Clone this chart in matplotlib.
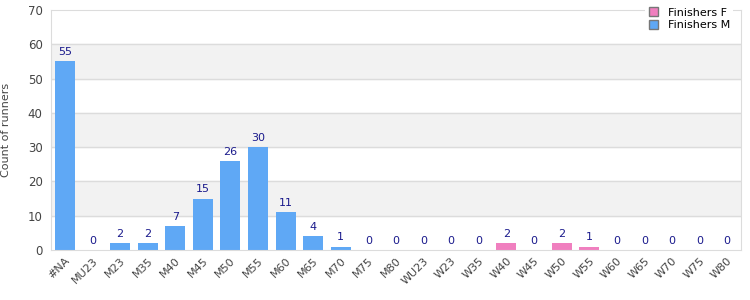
import matplotlib.pyplot as plt
import numpy as np

categories = ['#NA', 'MU23', 'M23', 'M35', 'M40', 'M45', 'M50', 'M55', 'M60', 'M65',
              'M70', 'M75', 'M80', 'WU23', 'W23', 'W35', 'W40', 'W45', 'W50', 'W55',
              'W60', 'W65', 'W70', 'W75', 'W80']
finishers_m = [55, 0, 2, 2, 7, 15, 26, 30, 11, 4, 1, 0, 0, 0, 0, 0, 0, 0, 0, 0, 0, 0, 0, 0, 0]
finishers_f = [0, 0, 0, 0, 0, 0, 0, 0, 0, 0, 0, 0, 0, 0, 0, 0, 2, 0, 2, 1, 0, 0, 0, 0, 0]

blue = '#5fa8f5'
pink = '#f07fbf'
grid_c = '#dcdcdc'

fig = plt.figure(figsize=(7.5, 3), dpi=100)
ax = fig.add_axes([0.068, 0.1667, 0.92, 0.80])

x = np.arange(len(categories))
# alternating background bands
for lo in range(10, 70, 20):
    ax.axhspan(lo, lo + 10, color='#f2f2f2', zorder=0)
for y in range(10, 70, 10):
    ax.axhline(y, color=grid_c, lw=1, zorder=1)

ax.bar(x, finishers_f, width=0.72, color=pink, label='Finishers F', zorder=2)
ax.bar(x, finishers_m, width=0.72, color=blue, label='Finishers M', zorder=2)

totals = [m + f for m, f in zip(finishers_m, finishers_f)]
for xi, t in zip(x, totals):
    ax.text(xi, t + 1.2, str(t), ha='center', va='bottom', fontsize=8, color='#1a1a8c', zorder=3)

ax.set_xlim(-0.5, len(categories) - 0.5)
ax.set_ylim(0, 70)
ax.set_yticks(range(0, 71, 10))
ax.set_xticks(x)
ax.set_xticklabels(categories, rotation=45, ha='right', rotation_mode='anchor', fontsize=8, color='#444444')
ax.tick_params(axis='y', labelsize=8.5, labelcolor='#444444', length=0, pad=6)
ax.tick_params(axis='x', length=0, pad=4)
for s in ax.spines.values():
    s.set_color(grid_c)
ax.set_ylabel('Count of runners', fontsize=8, color='#444444', labelpad=12)

leg = fig.legend(loc='upper right', bbox_to_anchor=(0.985, 1.005), fontsize=8, frameon=True,
                 handlelength=0.8, handleheight=0.8, borderpad=0.3, labelspacing=0.25,
                 handletextpad=0.9)
leg.get_frame().set_edgecolor('none')
leg.get_frame().set_facecolor('white')
leg.get_frame().set_alpha(1)
leg.get_frame().set_boxstyle('square', pad=0)
for h in leg.legend_handles:
    h.set_edgecolor('#777777')
    h.set_linewidth(1)

fig.savefig('out.png', dpi=100)
